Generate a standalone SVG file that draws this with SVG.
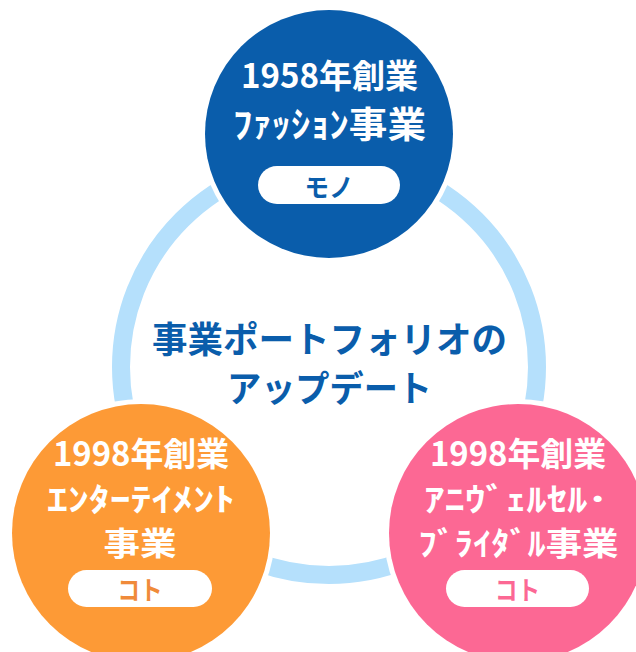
<svg xmlns="http://www.w3.org/2000/svg" width="636" height="652" viewBox="0 0 636 652">
<style>
.t{font-family:"Noto Sans CJK JP","Noto Sans",sans-serif;font-weight:700;text-anchor:middle}
.w{fill:#ffffff}
.gap{fill:#ffffff}
.pill{fill:#ffffff}
</style>
<rect width="636" height="652" fill="#ffffff"/>
<g id="connectors">
<circle cx="329" cy="367" r="208" fill="none" stroke="#b5e0fc" stroke-width="18"/>
</g>
<g id="center-title">
<text class="t" x="329.5" y="353" font-size="36" fill="#0a5dab" textLength="355" lengthAdjust="spacingAndGlyphs">事業ポートフォリオの</text>
<text class="t" x="329.5" y="402" font-size="36" fill="#0a5dab" textLength="205" lengthAdjust="spacingAndGlyphs">アップデート</text>
</g>
<g id="node-fashion">
<circle class="gap" cx="329" cy="134" r="129"/>
<circle cx="329" cy="134" r="124" fill="#0a5dab"/>
<text class="t w" x="329.5" y="88" font-size="33" textLength="177" lengthAdjust="spacingAndGlyphs">1958年創業</text>
<text class="t w" x="329.5" y="138" font-size="36" textLength="193" lengthAdjust="spacingAndGlyphs">ﾌｧｯｼｮﾝ事業</text>
<rect class="pill" x="258" y="166" width="142" height="38" rx="19"/>
<text class="t" x="329" y="197" font-size="26" fill="#0a5dab" textLength="49" lengthAdjust="spacingAndGlyphs">モノ</text>
</g>
<g id="node-entertainment">
<circle class="gap" cx="141" cy="533" r="134"/>
<circle cx="141" cy="533" r="129" fill="#fd9a36"/>
<text class="t w" x="141" y="466" font-size="33" textLength="176" lengthAdjust="spacingAndGlyphs">1998年創業</text>
<text class="t w" x="141" y="511" font-size="32" textLength="188" lengthAdjust="spacingAndGlyphs">ｴﾝﾀｰﾃｲﾒﾝﾄ</text>
<text class="t w" x="140" y="555" font-size="32" textLength="73" lengthAdjust="spacingAndGlyphs">事業</text>
<rect class="pill" x="68" y="570" width="144" height="37" rx="18.5"/>
<text class="t" x="140" y="600" font-size="26" fill="#f08a3a" textLength="45" lengthAdjust="spacingAndGlyphs">コト</text>
</g>
<g id="node-bridal">
<circle class="gap" cx="518" cy="533" r="134"/>
<circle cx="518" cy="533" r="129" fill="#fc6894"/>
<text class="t w" x="518" y="466" font-size="33" textLength="176" lengthAdjust="spacingAndGlyphs">1998年創業</text>
<text class="t w" x="516" y="511" font-size="32" textLength="184" lengthAdjust="spacingAndGlyphs">ｱﾆｳﾞｪﾙｾﾙ･</text>
<text class="t w" x="518.5" y="555" font-size="32" textLength="200" lengthAdjust="spacingAndGlyphs">ﾌﾞﾗｲﾀﾞﾙ事業</text>
<rect class="pill" x="446" y="570" width="143" height="37" rx="18.5"/>
<text class="t" x="517.5" y="600" font-size="26" fill="#fc6894" textLength="45" lengthAdjust="spacingAndGlyphs">コト</text>
</g>
</svg>
